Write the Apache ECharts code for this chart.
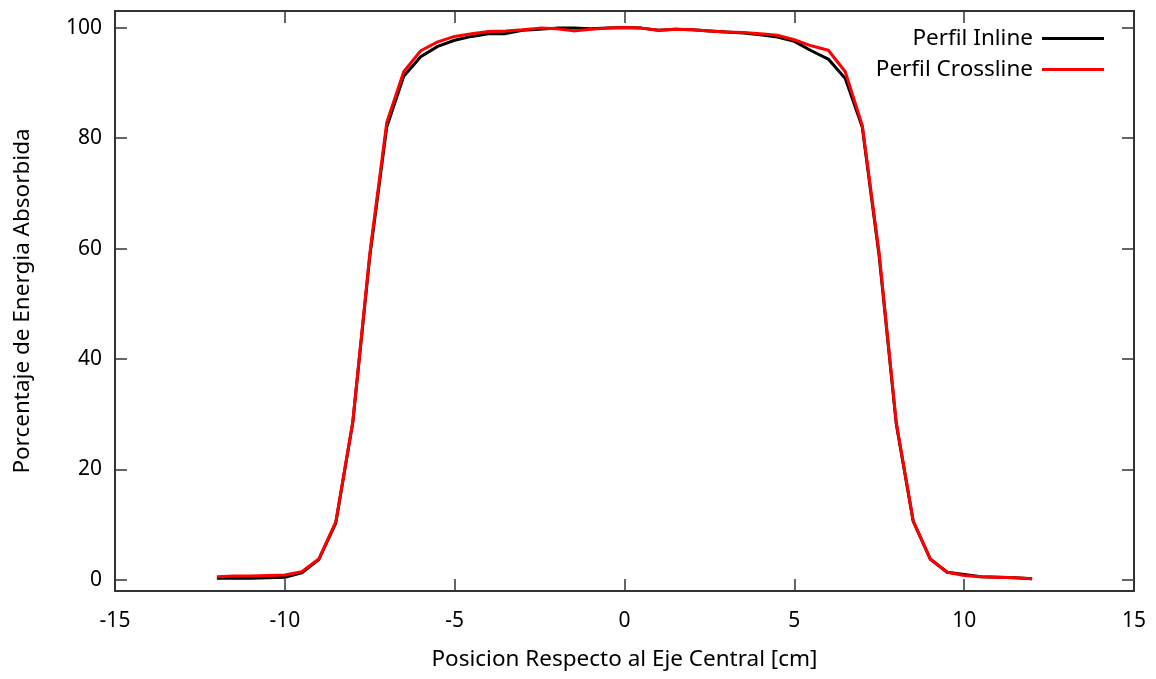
<!DOCTYPE html>
<html>
<head>
<meta charset="utf-8">
<script src="https://cdn.jsdelivr.net/npm/echarts@6/dist/echarts.min.js"></script>
<style>
  html, body { margin: 0; padding: 0; background: #fff; }
  #chart { width: 1156px; height: 679px; }
</style>
</head>
<body>
<div id="chart"></div>
<script>
// posiciones [cm]
const positions = [
  -12, -11.5, -11, -10.5, -10, -9.5, -9, -8.5, -8, -7.5, -7, -6.5, -6, -5.5, -5, -4.5, -4,
  -3.5, -3, -2.5, -2, -1.5, -1, -0.5, 0, 0.5, 1, 1.5, 2, 2.5, 3, 3.5, 4,
  4.5, 5, 5.5, 6, 6.5, 7, 7.5, 8, 8.5, 9, 9.5, 10, 10.5, 11, 11.5, 12
];
const inline = [
  0.3, 0.3, 0.3, 0.4, 0.5, 1.3, 3.7, 10.3, 28.5, 58.5, 82.0, 91.2, 94.7, 96.6, 97.7, 98.4, 98.9,
  98.9, 99.5, 99.7, 99.9, 99.9, 99.8, 99.9, 100, 99.9, 99.5, 99.7, 99.6, 99.4, 99.2, 99.0, 98.7,
  98.3, 97.5, 95.8, 94.3, 90.8, 82.0, 58.5, 28.3, 10.6, 3.8, 1.4, 1.0, 0.6, 0.5, 0.4, 0.2
];
const crossline = [
  0.6, 0.7, 0.7, 0.8, 0.9, 1.5, 3.8, 10.5, 28.6, 59.0, 82.8, 92.0, 95.8, 97.4, 98.4, 98.9, 99.3,
  99.4, 99.6, 99.9, 99.8, 99.4, 99.7, 99.9, 100, 99.9, 99.5, 99.7, 99.6, 99.4, 99.2, 99.1, 98.9,
  98.6, 97.8, 96.7, 95.9, 92.0, 82.3, 59.0, 28.5, 10.7, 3.8, 1.4, 0.8, 0.6, 0.5, 0.4, 0.2
];
const yTicks = [0, 20, 40, 60, 80, 100];

const FONT = "Noto Sans";
const FRAME = "#333";

const chart = echarts.init(document.getElementById("chart"));

const tickStyle = { inside: true, length: 12, lineStyle: { color: FRAME, width: 1.5 } };
const lineStyle = { show: true, onZero: false, lineStyle: { color: FRAME, width: 2 } };
const labelStyle = { color: "#000", fontSize: 21, fontFamily: FONT };
const nameStyle = { color: "#000", fontSize: 22.5, fontFamily: FONT };

chart.setOption({
  animation: false,
  backgroundColor: "#fff",
  grid: { left: 115, right: 22, top: 11, bottom: 88 },
  legend: {
    orient: "vertical",
    align: "right",
    right: 47,
    top: 22,
    itemWidth: 62,
    itemHeight: 3,
    itemGap: 8,
    icon: "rect",
    textStyle: { ...nameStyle, padding: [0, 4, 0, 0] },
    data: ["Perfil Inline", "Perfil Crossline"],
  },
  xAxis: [
    {
      type: "value",
      min: -15,
      max: 15,
      interval: 5,
      name: "Posicion Respecto al Eje Central [cm]",
      nameLocation: "middle",
      nameGap: 57,
      nameTextStyle: nameStyle,
      axisLine: lineStyle,
      axisTick: tickStyle,
      axisLabel: { ...labelStyle, margin: 20 },
      splitLine: { show: false },
    },
    {
      type: "value",
      position: "top",
      min: -15,
      max: 15,
      interval: 5,
      axisLine: lineStyle,
      axisTick: tickStyle,
      axisLabel: { show: false },
      splitLine: { show: false },
    },
  ],
  yAxis: [
    {
      type: "value",
      min: -2,
      max: 103,
      name: "Porcentaje de Energia Absorbida",
      nameLocation: "middle",
      nameGap: 81,
      nameTextStyle: nameStyle,
      axisLine: lineStyle,
      axisTick: { ...tickStyle, customValues: yTicks },
      axisLabel: { ...labelStyle, margin: 13, customValues: yTicks },
      splitLine: { show: false },
    },
    {
      type: "value",
      position: "right",
      min: -2,
      max: 103,
      axisLine: lineStyle,
      axisTick: { ...tickStyle, customValues: yTicks },
      axisLabel: { show: false },
      splitLine: { show: false },
    },
  ],
  series: [
    {
      name: "Perfil Inline",
      type: "line",
      showSymbol: false,
      symbol: "none",
      data: positions.map((x, i) => [x, inline[i]]),
      lineStyle: { color: "#000", width: 3 },
      itemStyle: { color: "#000" },
      z: 2,
    },
    {
      name: "Perfil Crossline",
      type: "line",
      showSymbol: false,
      symbol: "none",
      data: positions.map((x, i) => [x, crossline[i]]),
      lineStyle: { color: "#ff0000", width: 3 },
      itemStyle: { color: "#ff0000" },
      z: 3,
    },
  ],
});
</script>
</body>
</html>
